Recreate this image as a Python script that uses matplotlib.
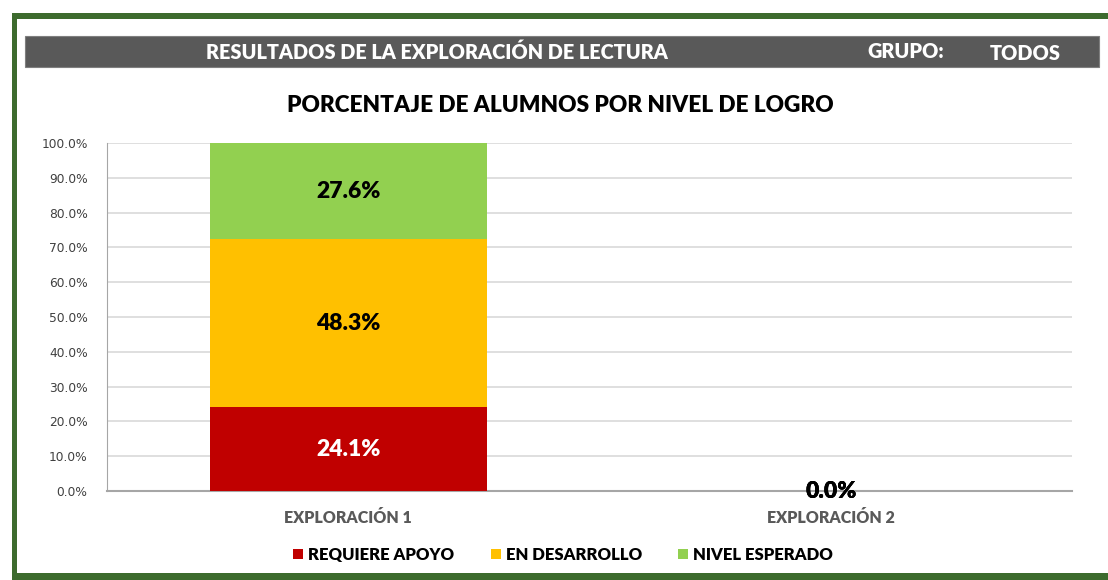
import matplotlib
matplotlib.use("Agg")
import matplotlib.pyplot as plt
from matplotlib.patches import Rectangle
import numpy as np

plt.rcParams['font.family'] = ['Lato', 'DejaVu Sans']

categories = ["EXPLORACIÓN 1", "EXPLORACIÓN 2"]
series_names = ["REQUIERE APOYO", "EN DESARROLLO", "NIVEL ESPERADO"]
requiere_apoyo = [24.1, 0.0]
en_desarrollo = [48.3, 0.0]
nivel_esperado = [27.6, 0.0]
colors = ["#C00000", "#FFC000", "#92D050"]
label_colors = ["white", "black", "black"]
yticks = [0, 10, 20, 30, 40, 50, 60, 70, 80, 90, 100]

W, H = 1108, 580
fig = plt.figure(figsize=(W / 100, H / 100), dpi=100)

def fx(px):
    return px / W

def fy(py):
    return 1 - py / H

BOLD = "heavy"

# green frame (top, left, bottom)
green = "#3D6B2E"
fig.add_artist(Rectangle((fx(12), fy(19)), 1 - fx(12), 6 / H, transform=fig.transFigure, color=green, lw=0))
fig.add_artist(Rectangle((fx(12), fy(580)), 5 / W, (580 - 13) / H, transform=fig.transFigure, color=green, lw=0))
fig.add_artist(Rectangle((fx(12), 0), 1 - fx(12), 7 / H, transform=fig.transFigure, color=green, lw=0))

# header bar
fig.add_artist(Rectangle((fx(25), fy(67)), (1099 - 25) / W, (67 - 36) / H, transform=fig.transFigure,
                         facecolor="#595959", edgecolor="#7f7f7f", lw=0.8))
fig.text(fx(437), fy(52), "RESULTADOS DE LA EXPLORACIÓN DE LECTURA", color="white", fontsize=14.3,
         fontweight=BOLD, ha="center", va="center")
fig.text(fx(906), fy(52), "GRUPO:", color="white", fontsize=14.3, fontweight=BOLD, ha="center", va="center")
fig.text(fx(1025), fy(54), "TODOS", color="white", fontsize=14.3, fontweight=BOLD, ha="center", va="center")

fig.text(fx(560), fy(105), "PORCENTAJE DE ALUMNOS POR NIVEL DE LOGRO", color="black", fontsize=16.3,
         fontweight=BOLD, ha="center", va="center")

ax = fig.add_axes([fx(107), fy(491), (1072 - 107) / W, (491 - 143) / H])
x = np.arange(len(categories))
bw = 0.574
bottom = np.zeros(len(categories))
for vals, name, c, lc in zip([requiere_apoyo, en_desarrollo, nivel_esperado], series_names, colors, label_colors):
    vals = np.array(vals)
    ax.bar(x, vals, bw, bottom=bottom, color=c, label=name, zorder=3)
    for i, v in enumerate(vals):
        ax.text(x[i], bottom[i] + v / 2, f"{v:.1f}%", ha="center", va="center", fontsize=16.5,
                fontweight=BOLD, color=lc if v > 0 else "black", zorder=4)
    bottom += vals

ax.set_xlim(-0.5, 1.5)
ax.set_ylim(0, 100)
ax.set_yticks(yticks)
ax.set_yticklabels([f"{t:.1f}%" for t in yticks], fontsize=8.8, color="#404040", family=['DejaVu Sans'])
ax.set_xticks(x)
ax.set_xticklabels(categories, fontsize=11.5, fontweight=BOLD, color="#595959")
ax.tick_params(axis="y", length=0, pad=14)
ax.tick_params(axis="x", length=0, pad=14)
ax.yaxis.grid(True, color="#d9d9d9", lw=1.2, zorder=0)
for s in ["top", "right"]:
    ax.spines[s].set_visible(False)
ax.spines["left"].set_color("#a6a6a6")
ax.spines["bottom"].set_color("#a6a6a6")
ax.spines["bottom"].set_linewidth(1.5)

leg = fig.legend(loc="center", bbox_to_anchor=(fx(563), fy(555)), ncol=3, frameon=False,
                 fontsize=12, handlelength=0.6, handleheight=0.6, handletextpad=0.3, columnspacing=2.2)
for t in leg.get_texts():
    t.set_fontweight(BOLD)
    t.set_color("black")

fig.savefig("out.png", dpi=100, facecolor="white")
